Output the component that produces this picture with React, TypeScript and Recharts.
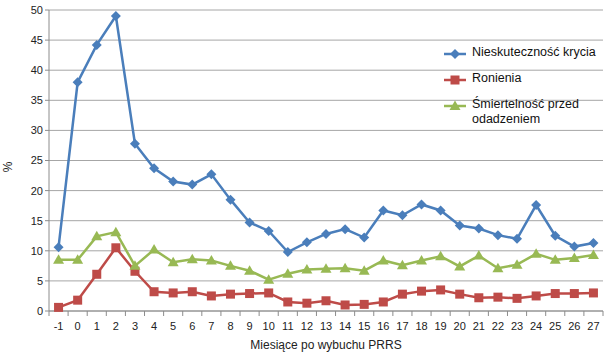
import React from 'react';
import { CartesianGrid, Line, LineChart, XAxis, YAxis } from 'recharts';

const months = [-1, 0, 1, 2, 3, 4, 5, 6, 7, 8, 9, 10, 11, 12, 13, 14, 15, 16, 17, 18, 19, 20, 21, 22, 23, 24, 25, 26, 27];

const nieskutecznosc = [10.6, 38, 44.2, 49, 27.8, 23.7, 21.5, 21, 22.7, 18.5, 14.7, 13.3, 9.8, 11.4, 12.8, 13.6, 12.2, 16.7, 15.9, 17.7, 16.7, 14.2, 13.7, 12.6, 12, 17.6, 12.5, 10.7, 11.3];
const ronienia = [0.6, 1.8, 6.1, 10.5, 6.6, 3.2, 3.0, 3.2, 2.5, 2.8, 2.9, 3.0, 1.5, 1.3, 1.7, 1.0, 1.1, 1.5, 2.8, 3.3, 3.5, 2.8, 2.2, 2.3, 2.1, 2.5, 2.9, 2.9, 3.0];
const smiertelnosc = [8.5, 8.5, 12.4, 13.1, 7.5, 10.2, 8.1, 8.6, 8.4, 7.5, 6.7, 5.2, 6.2, 6.9, 7.0, 7.1, 6.7, 8.4, 7.6, 8.4, 9.1, 7.4, 9.2, 7.1, 7.7, 9.5, 8.5, 8.8, 9.3];

const yTicks = [0, 5, 10, 15, 20, 25, 30, 35, 40, 45, 50];

const SERIES = [
  { key: 'a', name: 'Nieskuteczność krycia', color: '#4a7ebb', shape: 'diamond' },
  { key: 'b', name: 'Ronienia', color: '#be4b48', shape: 'square' },
  { key: 'c', name: 'Śmiertelność przed odadzeniem', color: '#98b954', shape: 'triangle' },
];

const FONT = '"Liberation Sans", Arial, sans-serif';
const BAND = 554 / 29;

const data = months.map((m, i) => ({
  month: String(m),
  a: nieskutecznosc[i],
  b: ronienia[i],
  c: smiertelnosc[i],
}));

function Marker({ shape, color, cx, cy }: { shape: string; color: string; cx: number; cy: number }) {
  if (shape === 'diamond') {
    return <path d={`M${cx},${cy - 5} L${cx + 5},${cy} L${cx},${cy + 5} L${cx - 5},${cy} Z`} fill={color} />;
  }
  if (shape === 'square') {
    return <rect x={cx - 4.5} y={cy - 4.5} width={9} height={9} fill={color} />;
  }
  return <path d={`M${cx},${cy - 5.5} L${cx + 5.5},${cy + 4} L${cx - 5.5},${cy + 4} Z`} fill={color} />;
}

function makeDot(shape: string, color: string) {
  return (props: any) => {
    const { cx, cy, index } = props;
    if (cx == null || cy == null) return <g key={index} />;
    return <Marker key={index} shape={shape} color={color} cx={cx} cy={cy} />;
  };
}

function XTick(props: any) {
  const { x, y, payload, index } = props;
  const last = index === months.length - 1;
  return (
    <g>
      <line x1={x - BAND / 2} x2={x - BAND / 2} y1={y - 8} y2={y - 3} stroke='#8c8c8c' />
      {last && <line x1={x + BAND / 2} x2={x + BAND / 2} y1={y - 8} y2={y - 3} stroke='#8c8c8c' />}
      <text x={x} y={y + 11} textAnchor='middle' fontSize={11} fill='#222' fontFamily={FONT}>
        {payload.value}
      </text>
    </g>
  );
}

function PercentLabel() {
  return (
    <text x={12} y={167} transform='rotate(-90 12 167)' textAnchor='middle' fontSize={12} fill='#222' fontFamily={FONT}>
      %
    </text>
  );
}

export default function App() {
  return (
    <div style={{ position: 'absolute', left: 0, top: 0, width: 610, height: 360, background: '#fff' }}>
      <LineChart
        width={610}
        height={360}
        data={data}
        margin={{ top: 10, right: 7, left: 0, bottom: 0 }}
        style={{ fontFamily: FONT }}
      >
        <CartesianGrid vertical={false} stroke='#a6a6a6' />
        <XAxis
          dataKey='month'
          height={49}
          interval={0}
          padding={{ left: BAND / 2, right: BAND / 2 }}
          axisLine={{ stroke: '#8c8c8c' }}
          tickLine={false}
          tick={<XTick />}
          label={{
            value: 'Miesiące po wybuchu PRRS',
            position: 'insideBottom',
            offset: 11,
            fontSize: 12,
            fill: '#222',
            fontFamily: FONT,
          }}
        />
        <YAxis
          width={49}
          domain={[0, 50]}
          ticks={yTicks}
          interval={0}
          axisLine={{ stroke: '#8c8c8c' }}
          tickLine={{ stroke: '#8c8c8c' }}
          tickSize={4}
          tick={{ fontSize: 11, fill: '#222', fontFamily: FONT }}
          label={<PercentLabel />}
        />
        {SERIES.map((s) => (
          <Line
            key={s.key}
            type='linear'
            dataKey={s.key}
            name={s.name}
            stroke={s.color}
            strokeWidth={2.5}
            dot={makeDot(s.shape, s.color)}
            activeDot={false}
            isAnimationActive={false}
          />
        ))}
      </LineChart>
      <div style={{ position: 'absolute', left: 432, top: 45, width: 175, fontFamily: FONT, fontSize: 12.5, color: '#111' }}>
        {SERIES.map((s) => (
          <div key={s.key} style={{ display: 'flex', alignItems: 'flex-start', marginBottom: 11, lineHeight: '15px' }}>
            <svg width={36} height={15} style={{ flex: 'none' }}>
              <line x1={12} x2={34} y1={9} y2={9} stroke={s.color} strokeWidth={2.5} />
              <Marker shape={s.shape} color={s.color} cx={23} cy={9} />
            </svg>
            <span style={{ marginLeft: 4 }}>{s.name}</span>
          </div>
        ))}
      </div>
    </div>
  );
}
